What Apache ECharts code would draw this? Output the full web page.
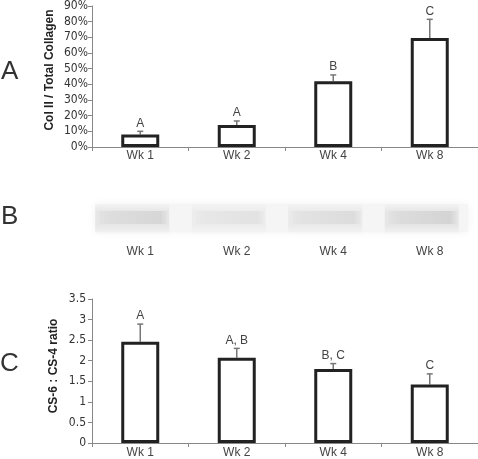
<!DOCTYPE html>
<html>
<head>
<meta charset="utf-8">
<script src="https://cdn.jsdelivr.net/npm/echarts@6/dist/echarts.min.js"></script>
<style>
html,body{margin:0;padding:0;background:#fff;}
#chart{width:478px;height:459px;}
</style>
</head>
<body>
<div id="chart"></div>
<script>
const categories = ['Wk 1', 'Wk 2', 'Wk 4', 'Wk 8'];
const collagenValues = [8, 14, 42, 69.5];
const collagenErrors = [2, 2.6, 4, 12];
const collagenLetters = ['A', 'A', 'B', 'C'];
const ratioValues = [2.46, 2.07, 1.80, 1.42];
const ratioErrors = [0.43, 0.23, 0.13, 0.26];
const ratioLetters = ['A', 'A, B', 'B, C', 'C'];
const blotIntensity = [0.11, 0.07, 0.09, 0.12];

const narrow = '"Liberation Sans Narrow", "DejaVu Sans Condensed", "Liberation Sans", Arial, sans-serif';
const sans = '"Liberation Sans", Arial, sans-serif';

function errRender(letters) {
  return function (params, api) {
    const i = api.value(0), v = api.value(1), e = api.value(2);
    const base = api.coord([i, v]);
    const top = api.coord([i, v + e]);
    const x = base[0];
    const st = { stroke: '#777', lineWidth: 1.5 };
    return {
      type: 'group',
      children: [
        { type: 'line', shape: { x1: x, y1: base[1], x2: x, y2: top[1] }, style: st },
        { type: 'line', shape: { x1: x - 3, y1: top[1], x2: x + 3, y2: top[1] }, style: st },
        { type: 'text', x: x, y: top[1] - 2,
          style: { text: letters[params.dataIndex], align: 'center', verticalAlign: 'bottom',
                   textAlign: 'center', textVerticalAlign: 'bottom',
                   fontSize: 12, fontFamily: sans, fill: '#444' } }
      ]
    };
  };
}

function blotRender(params, api) {
  const i = api.value(0);
  const c = api.coord([i, 0.5]);
  const a = api.value(1);
  const w = 74, h = 30;
  const rgba = (k) => 'rgba(70,70,70,' + (a * k).toFixed(3) + ')';
  const x0 = c[0] - 8 - w / 2;
  return {
    type: 'group',
    children: [
      { type: 'rect', shape: { x: x0, y: c[1] - h / 2, width: w, height: h },
        style: {
          fill: new echarts.graphic.LinearGradient(0, 0, 0, 1, [
            { offset: 0, color: rgba(0.1) }, { offset: 0.25, color: rgba(0.7) },
            { offset: 0.7, color: rgba(0.7) }, { offset: 1, color: rgba(0.1) }
          ]),
          shadowBlur: 8, shadowColor: rgba(0.4)
        } },
      { type: 'rect', shape: { x: x0 + 4, y: c[1] - 8, width: w - 6, height: 13 },
        style: {
          fill: new echarts.graphic.LinearGradient(0, 0, 1, 0, [
            { offset: 0, color: rgba(0.2) }, { offset: 0.15, color: rgba(0.5) },
            { offset: 0.9, color: rgba(0.9) }, { offset: 1, color: rgba(0.2) }
          ]),
          shadowBlur: 6, shadowColor: rgba(0.4)
        } }
    ]
  };
}

const xCommon = {
  type: 'category', data: categories,
  axisLine: { lineStyle: { color: '#888', width: 1 } },
  axisTick: { show: true, length: 4, lineStyle: { color: '#888' } },
  axisLabel: { color: '#444', fontSize: 12, fontFamily: sans }
};

const chart = echarts.init(document.getElementById('chart'));
chart.setOption({
  animation: false,
  grid: [
    { left: 92, right: 0, top: 6, height: 141 },
    { left: 92, right: 0, top: 198, height: 42 },
    { left: 92, right: 0, top: 299, height: 145 }
  ],
  xAxis: [
    Object.assign({}, xCommon, { gridIndex: 0, axisLabel: Object.assign({}, xCommon.axisLabel, { margin: 3 }) }),
    { gridIndex: 1, type: 'category', data: categories, axisLine: { show: false }, axisTick: { show: false },
      axisLabel: { color: '#444', fontSize: 12, fontFamily: sans, margin: 6 } },
    Object.assign({}, xCommon, { gridIndex: 2, axisLabel: Object.assign({}, xCommon.axisLabel, { margin: 4 }) })
  ],
  yAxis: [
    { gridIndex: 0, type: 'value', min: 0, max: 90, interval: 10,
      axisLine: { show: true, lineStyle: { color: '#888' } },
      axisTick: { show: true, length: 4, lineStyle: { color: '#888' } },
      splitLine: { show: false },
      axisLabel: { formatter: '{value}%', color: '#333', fontSize: 12, fontFamily: narrow, margin: 4 } },
    { gridIndex: 1, type: 'value', min: 0, max: 1, show: false },
    { gridIndex: 2, type: 'value', min: 0, max: 3.5, interval: 0.5,
      axisLine: { show: true, lineStyle: { color: '#888' } },
      axisTick: { show: true, length: 4, lineStyle: { color: '#888' } },
      splitLine: { show: false },
      axisLabel: { color: '#333', fontSize: 12, fontFamily: narrow, margin: 6 } }
  ],
  series: [
    { type: 'bar', xAxisIndex: 0, yAxisIndex: 0, data: collagenValues, barWidth: 38,
      itemStyle: { color: '#fff', borderColor: '#222', borderWidth: 3 }, z: 3 },
    { type: 'custom', xAxisIndex: 0, yAxisIndex: 0, renderItem: errRender(collagenLetters),
      data: collagenValues.map((v, i) => [i, v, collagenErrors[i]]), z: 2 },
    { type: 'custom', xAxisIndex: 1, yAxisIndex: 1, renderItem: blotRender,
      data: blotIntensity.map((v, i) => [i, v]), z: 2 },
    { type: 'bar', xAxisIndex: 2, yAxisIndex: 2, data: ratioValues, barWidth: 38,
      itemStyle: { color: '#fff', borderColor: '#222', borderWidth: 3 }, z: 3 },
    { type: 'custom', xAxisIndex: 2, yAxisIndex: 2, renderItem: errRender(ratioLetters),
      data: ratioValues.map((v, i) => [i, v, ratioErrors[i]]), z: 2 }
  ],
  graphic: [
    { type: 'rect', z: 1, shape: { x: 95, y: 204, width: 373, height: 28 },
      style: { fill: '#f5f5f5', shadowBlur: 8, shadowColor: '#f2f2f2' } },
    { type: 'text', left: 1, top: 59, style: { text: 'A', fontSize: 26, fontFamily: sans, fill: '#333' } },
    { type: 'text', left: 1, top: 204, style: { text: 'B', fontSize: 26, fontFamily: sans, fill: '#333' } },
    { type: 'text', left: 0, top: 351, style: { text: 'C', fontSize: 26, fontFamily: sans, fill: '#333' } },
    { type: 'text', x: 50, y: 70, rotation: Math.PI / 2,
      style: { text: 'Col II / Total Collagen', fontSize: 12, fontWeight: 'bold', fontFamily: sans, fill: '#222',
               align: 'center', verticalAlign: 'middle', textAlign: 'center', textVerticalAlign: 'middle' } },
    { type: 'text', x: 54, y: 366, rotation: Math.PI / 2,
      style: { text: 'CS-6 : CS-4 ratio', fontSize: 12, fontWeight: 'bold', fontFamily: sans, fill: '#222',
               align: 'center', verticalAlign: 'middle', textAlign: 'center', textVerticalAlign: 'middle' } }
  ]
});
</script>
</body>
</html>
